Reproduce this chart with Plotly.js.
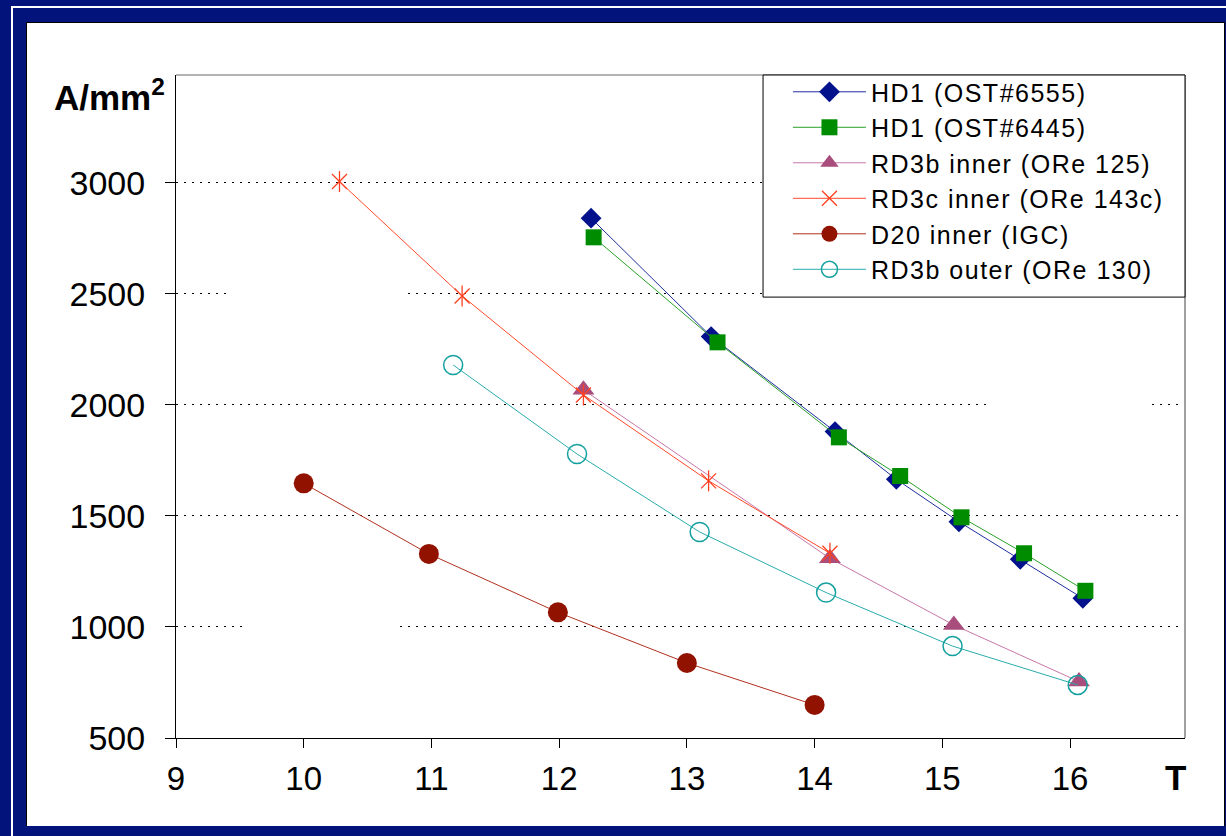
<!DOCTYPE html>
<html>
<head>
<meta charset="utf-8">
<script src="https://cdn.plot.ly/plotly-3.0.1.min.js"></script>
<style>
  html, body { margin:0; padding:0; }
  body { background:#02137c; width:1226px; height:836px; overflow:hidden; position:relative; }
  #wl { position:absolute; left:11px; top:6px; width:1400px; height:1000px; border-left:2px solid #fff; border-top:2px solid #fff; }
  #frame { position:absolute; left:26px; top:22px; width:1197px; height:803px; border:1px solid #000; border-bottom:none; background:#fff; }
  #chart { width:1197px; height:803px; }
  .legendtext { letter-spacing: 1.5px; }
  #chart .legend .scrollbox { clip-path: none !important; }
</style>
</head>
<body>
<div id="wl"></div>
<div id="frame"><div id="chart"></div></div>
<script>
// ---- data ----
const seriesNames = ["HD1 (OST#6555)", "HD1 (OST#6445)", "RD3b inner (ORe 125)", "RD3c inner (ORe 143c)", "D20 inner (IGC)", "RD3b outer (ORe 130)"];

const hd6555_T = [12.25, 13.19, 14.16, 14.64, 15.13, 15.61, 16.10];
const hd6555_J = [2841, 2308, 1880, 1665, 1474, 1305, 1129];

const hd6445_T = [12.27, 13.24, 14.19, 14.67, 15.15, 15.64, 16.12];
const hd6445_J = [2755, 2282, 1854, 1680, 1494, 1332, 1163];

const rd3bIn_T = [12.19, 14.12, 15.09, 16.07];
const rd3bIn_J = [2068, 1309, 1009, 754];

const rd3cIn_T = [10.28, 11.24, 12.19, 13.17, 14.12];
const rd3cIn_J = [3006, 2491, 2045, 1658, 1332];

const d20_T = [10.0, 10.98, 11.99, 13.0, 14.0];
const d20_J = [1647, 1329, 1066, 838, 649];

const rd3bOut_T = [11.17, 12.14, 13.10, 14.09, 15.08, 16.06];
const rd3bOut_J = [2180, 1779, 1428, 1155, 914, 739];

const xTickVals = [9, 10, 11, 12, 13, 14, 15, 16];
const yTickVals = [500, 1000, 1500, 2000, 2500, 3000];

const FONT = "Liberation Sans, Arial, Helvetica, sans-serif";

const traces = [
  { name: seriesNames[0], x: hd6555_T, y: hd6555_J, mode: "lines+markers",
    line: { color: "#1f2f9f", width: 1 },
    marker: { symbol: "diamond", size: 16, color: "#03128c", line: { color: "#03128c", width: 0 } } },
  { name: seriesNames[1], x: hd6445_T, y: hd6445_J, mode: "lines+markers",
    line: { color: "#2aa02a", width: 1 },
    marker: { symbol: "square", size: 16, color: "#008c00", line: { color: "#008c00", width: 0 } } },
  { name: seriesNames[2], x: rd3bIn_T, y: rd3bIn_J, mode: "lines+markers",
    line: { color: "#c877a8", width: 1 },
    marker: { symbol: "triangle-up", size: 19, color: "#a84d7c", line: { color: "#a84d7c", width: 0 } } },
  { name: seriesNames[3], x: rd3cIn_T, y: rd3cIn_J, mode: "lines+markers",
    line: { color: "#ff4a2a", width: 1 },
    marker: { symbol: "x-thin-open", size: 15, color: "#ff4020", line: { color: "#ff4020", width: 1.3 } } },
  { name: seriesNames[3], x: rd3cIn_T, y: rd3cIn_J, mode: "markers", showlegend: false, hoverinfo: "skip",
    marker: { symbol: "line-ns-open", size: 15, color: "#ff4020", line: { color: "#ff4020", width: 1.3 } } },
  { name: seriesNames[4], x: d20_T, y: d20_J, mode: "lines+markers",
    line: { color: "#b0301e", width: 1 },
    marker: { symbol: "circle", size: 20, color: "#921200", line: { color: "#921200", width: 0 } } },
  { name: seriesNames[5], x: rd3bOut_T, y: rd3bOut_J, mode: "lines+markers",
    line: { color: "#2aacac", width: 1 },
    marker: { symbol: "circle-open", size: 19, color: "#15a0a0", line: { color: "#15a0a0", width: 1.5 } } }
];

// gaps in the dotted gridlines (white text boxes in the original)
const gapMasks = [
  { x0: 9.42, x1: 10.79, y: 2500 },
  { x0: 9.54, x1: 10.71, y: 1000 },
  { x0: 15.35, x1: 16.60, y: 2000 }
];

const shapes = gapMasks.map(g => ({
  type: "rect", xref: "x", yref: "y", x0: g.x0, x1: g.x1, y0: g.y - 25, y1: g.y + 25,
  fillcolor: "#ffffff", line: { width: 0 }, layer: "between"
}));
shapes.push({ type: "line", xref: "paper", yref: "paper", x0: 0, x1: 1, y0: 1, y1: 1, line: { color: "#b4b4b4", width: 2 } });
shapes.push({ type: "line", xref: "paper", yref: "paper", x0: 1, x1: 1, y0: 0, y1: 1, line: { color: "#a0a0a0", width: 2 } });
// legend frame
shapes.push({ type: "rect", xref: "paper", yref: "paper", x0: 0.5818, x1: 1, y0: 0.665, y1: 1,
  fillcolor: "#ffffff", line: { color: "#000", width: 1 }, layer: "above" });

const layout = {
  width: 1197, height: 803,
  margin: { l: 149, r: 39, t: 52, b: 88 },
  paper_bgcolor: "#ffffff", plot_bgcolor: "#ffffff",
  font: { family: FONT, color: "#000" },
  showlegend: true,
  legend: {
    x: 0.6065, y: 1.009, xanchor: "left", yanchor: "top",
    bgcolor: "rgba(0,0,0,0)", borderwidth: 0,
    font: { family: FONT, size: 25, color: "#000" },
    itemwidth: 73, tracegroupgap: 0
  },
  xaxis: {
    range: [9, 16.9], tickmode: "array", tickvals: xTickVals,
    showgrid: false, zeroline: false,
    showline: true, linecolor: "#000", linewidth: 1,
    ticks: "outside", ticklen: 9, tickcolor: "#000", tickwidth: 1,
    tickfont: { family: FONT, size: 33, color: "#000" },
    ticklabelstandoff: 2
  },
  yaxis: {
    range: [500, 3486], tickmode: "array", tickvals: yTickVals,
    showgrid: true, gridcolor: "#000", gridwidth: 1, griddash: "2px,6px",
    zeroline: false,
    showline: true, linecolor: "#000", linewidth: 1,
    ticks: "outside", ticklen: 10, tickcolor: "#000", tickwidth: 1,
    tickfont: { family: FONT, size: 34, color: "#000" },
    ticklabelstandoff: 13
  },
  shapes: shapes,
  annotations: [
    { text: "<b>A/mm<sup>2</sup></b>", xref: "paper", yref: "paper", x: -0.009, y: 0.97,
      xanchor: "right", yanchor: "middle", showarrow: false,
      font: { family: FONT, size: 35, color: "#000" } },
    { text: "<b>T</b>", xref: "paper", yref: "paper", x: 0.991, y: -0.06,
      xanchor: "center", yanchor: "middle", showarrow: false,
      font: { family: FONT, size: 35, color: "#000" } }
  ]
};

Plotly.newPlot("chart", traces, layout, { displayModeBar: false, staticPlot: true });
</script>
</body>
</html>
